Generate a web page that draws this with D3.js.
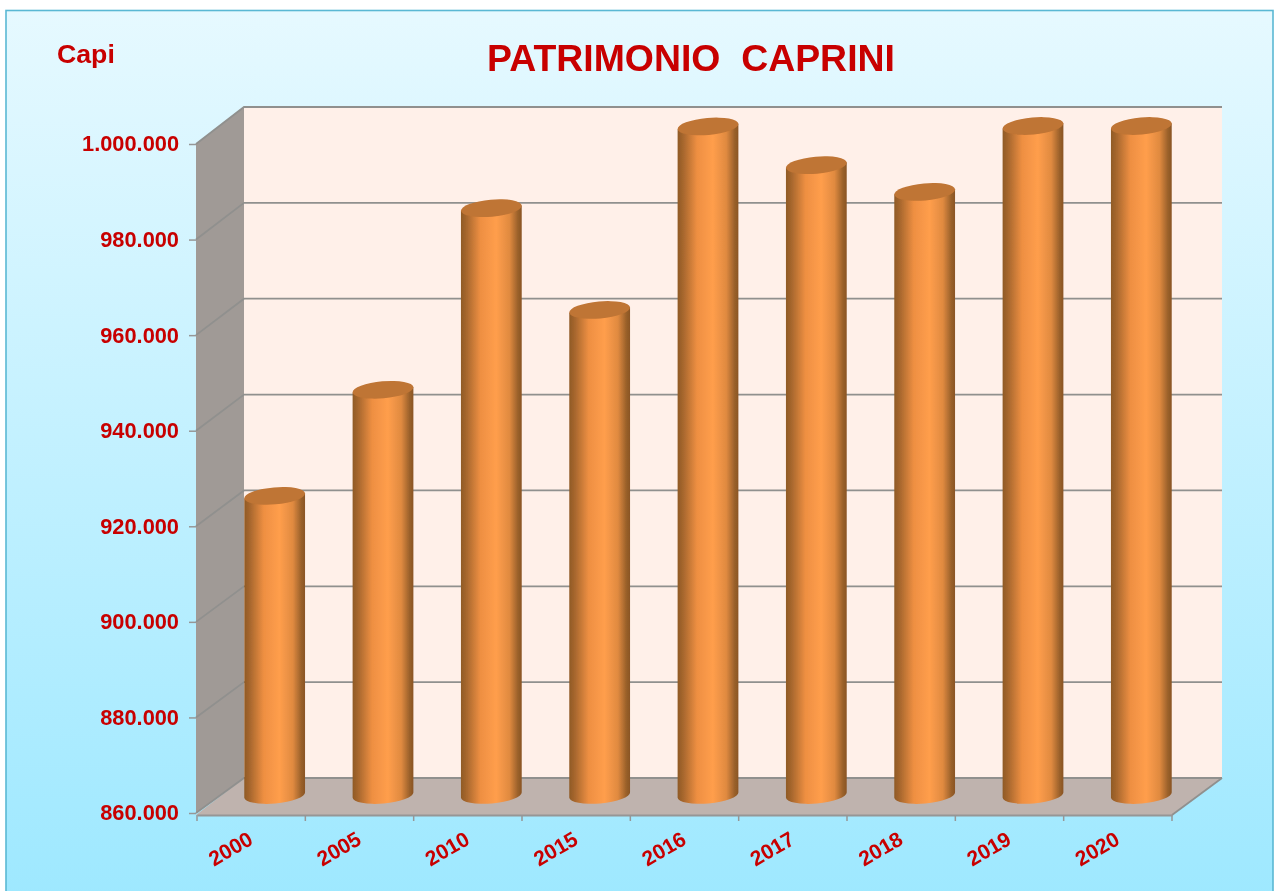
<!DOCTYPE html>
<html>
<head>
<meta charset="utf-8">
<script src="https://cdn.jsdelivr.net/npm/d3@7"></script>
<style>
  html, body { margin: 0; padding: 0; background: #fff; overflow: hidden; }
  text { font-family: "Liberation Sans", Arial, sans-serif; font-weight: bold; fill: #c80000; }
</style>
</head>
<body>
<div id="chart"></div>
<script>
var categories = ['2000', '2005', '2010', '2015', '2016', '2017', '2018', '2019', '2020'];
var capi = [922600, 944800, 982800, 961500, 999900, 991800, 986200, 1000000, 1000000];
var yTicks = [860000, 880000, 900000, 920000, 940000, 960000, 980000, 1000000];

var width = 1274, height = 891;
var rx = 30.5, ry = 8.5, tilt = -5;

var x = d3.scaleBand().domain(categories).range([197, 1172]);
var y = d3.scaleLinear().domain([860000, 1000000]).range([813, 144]);
// parete di fondo: stessa scala, spostata in profondita
var yBack = d3.scaleLinear().domain(y.domain()).range([778, 107]);
var formatIt = d3.formatLocale({ decimal: ',', thousands: '.', grouping: [3], currency: ['', ''] }).format(',d');

var svg = d3.select('#chart').append('svg').attr('width', width).attr('height', height);
var defs = svg.append('defs');

var bg = defs.append('linearGradient').attr('id', 'bg').attr('x1', 0).attr('y1', 0).attr('x2', 0).attr('y2', 1);
bg.append('stop').attr('offset', 0).attr('stop-color', '#e6f9ff');
bg.append('stop').attr('offset', 1).attr('stop-color', '#9de8ff');

var cyl = defs.append('linearGradient').attr('id', 'cyl').attr('x1', 0).attr('y1', 0).attr('x2', 1).attr('y2', 0);
cyl.append('stop').attr('offset', 0).attr('stop-color', '#8f5a26');
cyl.append('stop').attr('offset', 0.1).attr('stop-color', '#a9682e');
cyl.append('stop').attr('offset', 0.32).attr('stop-color', '#ee8f42');
cyl.append('stop').attr('offset', 0.58).attr('stop-color', '#ff9e4c');
cyl.append('stop').attr('offset', 0.8).attr('stop-color', '#e08a40');
cyl.append('stop').attr('offset', 0.94).attr('stop-color', '#99602a');
cyl.append('stop').attr('offset', 1).attr('stop-color', '#8a5524');

var soft = defs.append('filter').attr('id', 'soft');
soft.append('feGaussianBlur').attr('stdDeviation', 0.6);

var root = svg.append('g').attr('filter', 'url(#soft)');

// sfondo
root.append('rect').attr('x', 6).attr('y', 10.5).attr('width', 1267).attr('height', 900)
    .attr('fill', 'url(#bg)').attr('stroke', '#5ab8d4').attr('stroke-width', 1.6);

var x0 = x.range()[0], x1 = x.range()[1], xb0 = 244, xb1 = 1222;
var ybot = 815;
function pts(a) { return a.map(function(p) { return p.join(','); }).join(' '); }

// pareti
root.append('polygon').attr('fill', '#a09a96')
  .attr('points', pts([[x0 - 1, y(860000)], [x0 - 1, y(1000000)], [xb0, yBack(1000000)], [xb0, yBack(860000)]]));
root.append('polygon').attr('fill', '#fff0e9')
  .attr('points', pts([[xb0, yBack(860000)], [xb0, yBack(1000000)], [xb1, yBack(1000000)], [xb1, yBack(860000)]]));
root.append('polygon').attr('fill', '#bfb3ae')
  .attr('points', pts([[x0 - 1, ybot], [xb0, yBack(860000)], [xb1, yBack(860000)], [x1, ybot]]));

// griglia
var grid = root.append('g').attr('fill', 'none').attr('stroke', '#90908e').attr('stroke-width', 1.8);
yTicks.forEach(function(t) {
  grid.append('polyline').attr('points', pts([[x0 - 1, y(t)], [xb0, yBack(t)], [xb1, yBack(t)]]));
});
grid.append('line').attr('x1', x1).attr('y1', ybot).attr('x2', xb1).attr('y2', yBack(860000));

// assi
var yAxis = d3.axisLeft(y).tickValues(yTicks).tickFormat(formatIt).tickSize(7).tickPadding(10);
var yg = root.append('g').attr('transform', 'translate(' + (x0 - 1) + ',0)').call(yAxis);
yg.select('.domain').attr('stroke', 'none');
yg.selectAll('.tick line').attr('stroke', '#969696').attr('stroke-width', 1.5);
yg.selectAll('.tick text').style('font-size', '21.8px').attr('fill', '#c80000');

var xAxis = d3.axisBottom(x).tickSizeOuter(0).tickSize(0).tickPadding(0);
var xg = root.append('g').attr('transform', 'translate(0,' + ybot + ')').call(xAxis);
xg.select('.domain').attr('stroke', '#969696').attr('stroke-width', 1.8);
xg.selectAll('.tick line').remove();
xg.selectAll('.tick text')
  .style('font-size', '21px')
  .attr('text-anchor', 'middle')
  .attr('fill', '#c80000')
  .attr('dy', null)
  .attr('y', null)
  .attr('transform', 'translate(-17,40) rotate(-30)');
var edges = categories.map(function(c) { return x(c); }).concat([x1]);
root.append('g').selectAll('line').data(edges).join('line')
  .attr('x1', function(d) { return d; }).attr('x2', function(d) { return d; })
  .attr('y1', ybot).attr('y2', ybot + 6)
  .attr('stroke', '#969696').attr('stroke-width', 1.5);

// cilindri
var cx = function(c) { return x(c) + x.bandwidth() / 2 + 23.5; };
var lift = 18;
var rad = tilt * Math.PI / 180;
var ex = rx * Math.cos(rad), ey = rx * Math.sin(rad);

var bars = root.append('g').selectAll('g').data(categories).join('g');
bars.append('path')
  .attr('fill', 'url(#cyl)')
  .attr('d', function(c, i) {
    var xc = cx(c), top = y(capi[i]) - lift, bot = y(860000) - lift;
    return 'M' + (xc - ex) + ',' + (top - ey) +
      'L' + (xc + ex) + ',' + (top + ey) +
      'L' + (xc + ex) + ',' + (bot + ey) +
      'A' + rx + ',' + ry + ' ' + tilt + ' 0 1 ' + (xc - ex) + ',' + (bot - ey) + 'Z';
  });
bars.append('ellipse')
  .attr('rx', rx).attr('ry', ry)
  .attr('fill', '#bf7434')
  .attr('transform', function(c, i) { return 'translate(' + cx(c) + ',' + (y(capi[i]) - lift) + ') rotate(' + tilt + ')'; });

// titoli
root.append('text').attr('x', 691).attr('y', 71).attr('text-anchor', 'middle').style('font-size', '37.4px').style('white-space', 'pre').text('PATRIMONIO  CAPRINI');
root.append('text').attr('x', 57).attr('y', 63).style('font-size', '26.7px').text('Capi');
</script>
</body>
</html>
